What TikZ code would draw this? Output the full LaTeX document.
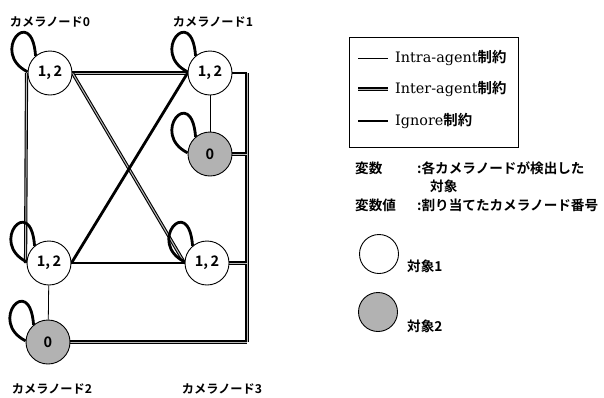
\documentclass[tikz,border=0pt]{standalone}
\usepackage{fontspec}
\newfontfamily\jp{Noto Sans CJK JP}[BoldFont={Noto Sans CJK JP Bold}]
\newfontfamily\lat{DejaVu Serif}
\usetikzlibrary{backgrounds}
\tikzset{
  intra/.style={line width=0.8pt},
  inter/.style={line width=1.1pt, double=gray!55, double distance=1pt},
  ignore/.style={line width=2.8pt},
  cam/.style={circle, draw, line width=0.9pt, minimum size=44pt, inner sep=0pt, fill=white,
    font=\jp\bfseries\fontsize{14.5}{14.5}\selectfont},
  greycam/.style={cam, fill=gray!60},
  camlabel/.style={font=\jp\bfseries\fontsize{12.2}{14}\selectfont, inner sep=0pt},
  txt/.style={font=\jp\bfseries\fontsize{13.6}{15}\selectfont, inner sep=0pt, anchor=west},
  legtxt/.style={font=\fontsize{14.4}{16}\selectfont, inner sep=0pt, anchor=west}
}
\newcommand\camloop[1]{\draw[ignore] (#1.177) .. controls +(-38,-19) and +(-4,-53) .. (#1.130);}
\begin{document}
\begin{tikzpicture}[x=1pt,y=-1pt]
\useasboundingbox (0,0) rectangle (604,397);
% camera nodes
\node[cam] (n0) at (50,73) {1,\,2};
\node[cam] (n1) at (210,73) {1,\,2};
\node[greycam] (g1) at (210,154) {0};
\node[cam] (n2) at (49,263) {1,\,2};
\node[greycam] (g2) at (48,342) {0};
\node[cam] (n3) at (207,263) {1,\,2};
\coordinate (r1) at (247,73);
\coordinate (r2) at (247,154);
\coordinate (r3) at (247,263);
\coordinate (r4) at (247,342);
\begin{scope}[on background layer]
  \draw[inter] (n0.east) -- (n1.west);
  \draw[inter] (n0.east) -- (n3.west);
  \draw[ignore] (n1.west) -- (n2.east);
  \draw[ignore] (n2.east) -- (n3.west);
  \draw[inter] ([xshift=-1pt]n0.west) -- ([xshift=-1pt]n2.west);
  \draw[intra] (n1) -- (g1);
  \draw[intra] (n2) -- (g2);
  \draw[ignore] (n1.east) -- (r1);
  \draw[inter] (r1) -- (r4);
  \draw[inter] (g1.east) -- (r2);
  \draw[inter] (n3.east) -- (r3);
  \draw[inter] (g2.east) -- (r4);
  \camloop{n0}\camloop{n1}\camloop{g1}\camloop{n2}\camloop{g2}\camloop{n3}
\end{scope}
% camera labels
\node[camlabel] (c0) at (50,22) {カメラノード0};
\node[camlabel] (c1) at (213,22) {カメラノード1};
\node[camlabel] (c2) at (52,389) {カメラノード2};
\node[camlabel] (c3) at (222,389) {カメラノード3};
% legend
\node[draw, line width=0.9pt, minimum width=169pt, minimum height=110pt, anchor=north west, inner sep=0pt] (legend) at (349,37) {};
\coordinate (a1) at (358,58); \coordinate (b1) at (388,58);
\coordinate (a2) at (358,89); \coordinate (b2) at (388,89);
\coordinate (a3) at (358,121); \coordinate (b3) at (388,121);
\draw[intra] (a1) -- (b1);
\draw[inter] (a2) -- (b2);
\draw[ignore] (a3) -- (b3);
\node[legtxt] (t1) at (395,58) {\lat Intra-agent\jp\bfseries 制約};
\node[legtxt] (t2) at (395,89) {\lat Inter-agent\jp\bfseries 制約};
\node[legtxt] (t3) at (395,121) {\lat Ignore\jp\bfseries 制約};
% variables
\node[txt] (v1) at (355,168) {変数};
\node[txt] (v1d) at (417,168) {:各カメラノードが検出した};
\node[txt] (v1e) at (430,186) {対象};
\node[txt] (v2) at (355,205) {変数値};
\node[txt] (v2d) at (417,205) {:割り当てたカメラノード番号};
% object legend
\node[cam, minimum size=39pt] (o1) at (379,254) {};
\node[txt] (o1t) at (407,266) {対象1};
\node[greycam, minimum size=39pt] (o2) at (378,312) {};
\node[txt] (o2t) at (407,326) {対象2};
\end{tikzpicture}
\end{document}
